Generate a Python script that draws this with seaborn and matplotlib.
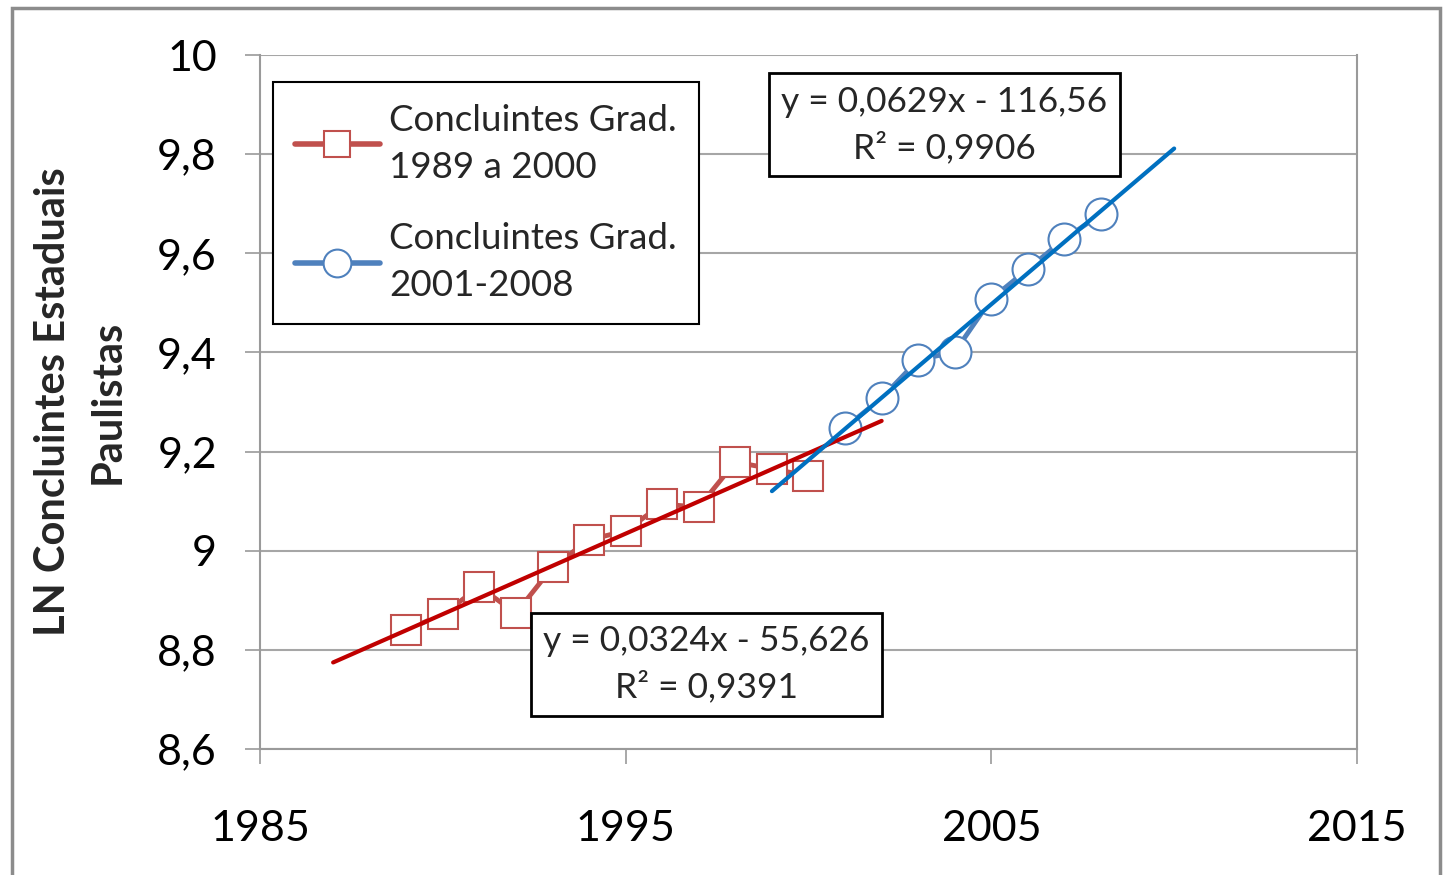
import numpy as np
import pandas as pd
import matplotlib
matplotlib.use("Agg")
import matplotlib.pyplot as plt
import seaborn as sns
from matplotlib.patches import Rectangle
from matplotlib.lines import Line2D

# ---- data ----
years_a = [1989, 1990, 1991, 1992, 1993, 1994, 1995, 1996, 1997, 1998, 1999, 2000]
ln_a = [8.840, 8.872, 8.927, 8.874, 8.967, 9.022, 9.040, 9.094, 9.088, 9.179, 9.165, 9.151]
years_b = [2001, 2002, 2003, 2004, 2005, 2006, 2007, 2008]
ln_b = [9.248, 9.308, 9.385, 9.401, 9.508, 9.568, 9.629, 9.679]
label_a = "Concluintes Grad.\n1989 a 2000"
label_b = "Concluintes Grad.\n2001-2008"
eq_a = "y = 0,0324x - 55,626\nR² = 0,9391"
eq_b = "y = 0,0629x - 116,56\nR² = 0,9906"
trend_a_range = [1987, 2002]
trend_b_range = [1999, 2010]
y_ticks = [8.6, 8.8, 9.0, 9.2, 9.4, 9.6, 9.8, 10.0]
y_ticklabels = ["8,6", "8,8", "9", "9,2", "9,4", "9,6", "9,8", "10"]
x_ticks = [1985, 1995, 2005, 2015]
ylabel = "LN Concluintes Estaduais\nPaulistas"

sns.set_theme(style="white")
plt.rcParams['font.family'] = ['Lato', 'DejaVu Sans']

fig = plt.figure(figsize=(14.45, 8.75), dpi=100)
ax = fig.add_axes([260/1445, 1-749/875, (1357-260)/1445, (749-55)/875])

df_a = pd.DataFrame({"x": years_a, "y": ln_a})
df_b = pd.DataFrame({"x": years_b, "y": ln_b})

red_m = "#C0504D"
blue_m = "#4F81BD"
red_t = "#C00000"
blue_t = "#0070C0"

sns.lineplot(data=df_a, x="x", y="y", ax=ax, color=red_m, lw=3.5, marker="s",
             markersize=21, markerfacecolor="white", markeredgecolor=red_m,
             markeredgewidth=1.5, zorder=3)
sns.lineplot(data=df_b, x="x", y="y", ax=ax, color=blue_m, lw=3.5, marker="o",
             markersize=23, markerfacecolor="white", markeredgecolor=blue_m,
             markeredgewidth=1.5, zorder=3)

# trendlines (least squares)
ca = np.polyfit(years_a, ln_a, 1)
cb = np.polyfit(years_b, ln_b, 1)
ta = pd.DataFrame({"x": trend_a_range, "y": np.polyval(ca, trend_a_range)})
tb = pd.DataFrame({"x": trend_b_range, "y": np.polyval(cb, trend_b_range)})
sns.lineplot(data=ta, x="x", y="y", ax=ax, color=red_t, lw=3, zorder=4)
sns.lineplot(data=tb, x="x", y="y", ax=ax, color=blue_t, lw=3, zorder=4)

ax.set_xlim(1985, 2015)
ax.set_ylim(8.6, 10.0)
ax.set_yticks(y_ticks)
ax.set_yticklabels(y_ticklabels)
ax.set_xticks(x_ticks)
ax.set_xticklabels([str(v) for v in x_ticks])
ax.tick_params(axis="both", labelsize=31, colors="#000000", length=11, width=1.2,
               direction="out", color="#9A9A9A", left=True, bottom=True)
ax.tick_params(axis="y", pad=20)
ax.tick_params(axis="x", pad=33)
ax.grid(axis="y", color="#A6A6A6", lw=1.5)
ax.grid(axis="x", visible=False)
for side in ["left", "bottom", "right"]:
    ax.spines[side].set_color("#9A9A9A")
    ax.spines[side].set_linewidth(1.5)
ax.spines["top"].set_visible(False)
ax.set_xlabel("")
ax.set_ylabel(ylabel, fontsize=30, fontweight="bold", labelpad=22, linespacing=1.55)

# legend
h_a = Line2D([], [], color=red_m, lw=4, marker="s", markersize=19,
             markerfacecolor="white", markeredgecolor=red_m, markeredgewidth=1.5)
h_b = Line2D([], [], color=blue_m, lw=4, marker="o", markersize=20,
             markerfacecolor="white", markeredgecolor=blue_m, markeredgewidth=1.5)
leg = ax.legend([h_a, h_b], [label_a, label_b], loc="upper left",
                bbox_to_anchor=((273-260)/1097, (749-82)/694), borderaxespad=0,
                fontsize=26.5, frameon=True, fancybox=False, framealpha=1,
                edgecolor="black", handlelength=2.3, handletextpad=0.25,
                labelspacing=1.05, borderpad=0.6, numpoints=1)
leg.get_frame().set_linewidth(1.5)
for t in leg.get_texts():
    t.set_linespacing(1.5)
leg.set_zorder(6)

# equation boxes
bbox_kw = dict(boxstyle="square,pad=0.35", fc="white", ec="black", lw=2)
ax.text(2003.71, 9.859, eq_b, ha="center", va="center", fontsize=25.5,
        multialignment="center", bbox=bbox_kw, zorder=7, linespacing=1.5)
ax.text(1997.2, 8.771, eq_a, ha="center", va="center", fontsize=25.5,
        multialignment="center", bbox=bbox_kw, zorder=7, linespacing=1.5)

# outer figure border
fig.patches.append(Rectangle((12/1445, -0.01), (1440-12)/1445, 1-8/875+0.01,
                             transform=fig.transFigure, fill=False,
                             ec="#8C8C8C", lw=2.5))

fig.savefig("out.png", dpi=100)
